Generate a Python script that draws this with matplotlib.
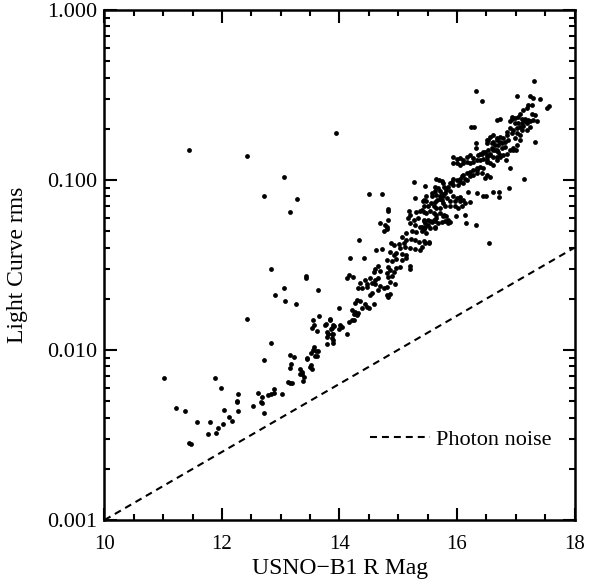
import matplotlib
matplotlib.use("Agg")
import matplotlib.pyplot as plt
from matplotlib.ticker import MultipleLocator, LogLocator, FormatStrFormatter, NullFormatter

plt.rcParams['font.family'] = ['Liberation Serif', 'DejaVu Serif']
plt.rcParams['lines.scale_dashes'] = False

# bright stars (sparse part, R < 14)
mag_bright = [11.44, 12.42, 13.94, 13.06, 12.71, 13.27, 13.15,
              12.83, 13.43, 13.43, 13.06, 13.64, 12.90, 13.08, 13.26, 13.99,
              12.42, 13.65, 13.83, 13.55, 13.56, 13.54, 13.77, 13.91, 13.86, 13.62, 13.78, 13.87, 13.89, 14.00, 13.79, 13.88, 13.78, 13.89, 12.83,
              13.57, 13.55, 13.60, 13.64, 13.51, 13.15, 13.22, 13.58, 13.61, 12.71, 13.44, 13.18, 13.16, 13.52, 13.50, 13.53, 13.33, 13.36, 13.32, 13.40, 13.38, 13.12, 13.16, 13.19,
              11.01, 11.88, 11.99, 12.89, 12.89, 12.83, 12.79, 13.02, 12.61, 12.68, 12.27, 12.26, 12.25, 12.66, 12.68, 12.53, 11.22, 11.37, 12.03, 12.28, 12.71, 12.12, 12.17, 11.58, 11.79, 12.02, 11.93, 11.77, 11.90, 11.44, 11.47,
              13.84, 13.75, 13.89, 13.87, 13.81, 13.89, 13.45, 13.37]
rms_bright = [0.150, 0.138, 0.188, 0.104, 0.0808, 0.0773, 0.0646,
              0.0300, 0.0267, 0.0272, 0.0231, 0.0226, 0.0210, 0.0195, 0.0187, 0.0176,
              0.0152, 0.0159, 0.0152, 0.0150, 0.0141, 0.0135, 0.0143, 0.0138, 0.0133, 0.0129, 0.0128, 0.0125, 0.0124, 0.0133, 0.0119, 0.0118, 0.0109, 0.0110, 0.0110,
              0.0104, 0.0100, 0.0099, 0.00986, 0.00964, 0.00935, 0.0091, 0.00925, 0.00922, 0.00876, 0.0089, 0.00824, 0.00785, 0.00816, 0.0079, 0.00778, 0.00772, 0.00745, 0.00723, 0.0069, 0.00655, 0.00647, 0.00641, 0.00641,
              0.00687, 0.00687, 0.00594, 0.00587, 0.00556, 0.00548, 0.00545, 0.0055, 0.00562, 0.00531, 0.0055, 0.0050, 0.00494, 0.00494, 0.00485, 0.00469, 0.00456, 0.00437, 0.00445, 0.00439, 0.00428, 0.00402, 0.00382, 0.00378, 0.00376, 0.00368, 0.00348, 0.0032, 0.00324, 0.00285, 0.00281,
              0.0150, 0.0140, 0.0140, 0.0135, 0.0124, 0.0114, 0.00892, 0.00718]

# middle of the band (R ~ 14 - 15.5)
mag_mid = [14.51, 14.73, 15.26, 15.46, 15.29, 15.42,
           14.83, 14.83, 15.18, 15.20, 15.31, 15.37, 15.43, 15.48,
           15.17, 15.26, 15.34, 15.43, 15.51, 14.83, 14.69, 14.77, 14.81, 14.81, 14.75,
           15.20, 15.29, 15.37, 15.46, 15.14, 15.23, 15.31, 15.40, 15.48,
           15.06, 15.13, 15.21, 15.29, 15.35, 15.44, 14.33,
           14.87, 14.93, 15.01, 15.09, 15.03, 15.11, 15.20, 15.29, 15.37,
           14.62, 14.72, 14.86, 14.92, 14.97, 15.06, 15.13,
           14.18, 14.41, 14.81, 14.89, 14.97, 15.06, 15.13, 15.20, 15.20,
           14.66, 14.60, 14.59, 14.69, 14.83, 14.86, 14.92, 14.80, 14.83, 14.89, 14.97, 15.03,
           14.17, 14.23, 14.12, 14.52, 14.60, 14.66, 14.43, 14.46, 14.55, 14.60,
           14.86, 14.94, 14.81, 14.35, 14.32, 14.39, 14.46, 14.69, 14.75, 14.66,
           14.55, 14.52, 14.80, 14.86, 14.83,
           14.29, 14.35, 14.26, 14.43, 14.46, 14.39, 14.50, 14.59,
           14.21, 14.26, 14.24, 14.29, 14.32, 14.21, 14.17, 14.24,
           14.01, 14.04, 14.12,
           15.40, 15.43, 15.48, 15.43, 15.48, 15.43, 15.46, 15.40, 15.43, 15.46, 15.40]
rms_mid = [0.0830, 0.0825, 0.0973, 0.0922, 0.0783, 0.0752,
           0.0679, 0.0653, 0.0653, 0.0625, 0.0644, 0.0653, 0.0644, 0.0638,
           0.0598, 0.0582, 0.0598, 0.0574, 0.0582, 0.0582, 0.0555, 0.0543, 0.0532, 0.0512, 0.0503,
           0.0555, 0.0543, 0.0532, 0.0532, 0.0490, 0.0501, 0.0497, 0.0501, 0.0490,
           0.0463, 0.0444, 0.0450, 0.0444, 0.0434, 0.0440, 0.0442,
           0.0427, 0.0414, 0.0420, 0.0424, 0.0400, 0.0404, 0.0400, 0.0394, 0.0388,
           0.0388, 0.0392, 0.0378, 0.0361, 0.0370, 0.0366, 0.0361,
           0.0349, 0.0349, 0.0338, 0.0334, 0.0342, 0.0338, 0.0348, 0.0314, 0.0300,
           0.0311, 0.0298, 0.0288, 0.0290, 0.0307, 0.0296, 0.0288, 0.0282, 0.0270, 0.0272, 0.0304, 0.0307,
           0.0276, 0.0270, 0.0264, 0.0264, 0.0258, 0.0264, 0.0258, 0.0243, 0.0247, 0.0243,
           0.0251, 0.0245, 0.0235, 0.0247, 0.0233, 0.0231, 0.0234, 0.0237, 0.0231, 0.0225,
           0.0215, 0.0210, 0.0210, 0.0213, 0.0205,
           0.0197, 0.0193, 0.0188, 0.0187, 0.0180, 0.0177, 0.0177, 0.0187,
           0.0172, 0.0168, 0.0163, 0.0161, 0.0164, 0.0150, 0.0147, 0.0151,
           0.0140, 0.0137, 0.0124,
           0.0667, 0.0708, 0.0800, 0.0762, 0.0748, 0.0582, 0.0555, 0.0532, 0.0512, 0.0427, 0.0404]

# faint stars (R ~ 15.5 - 16.2)
mag_faint = [15.65, 15.70, 15.74, 15.77, 15.78, 15.82, 15.80, 15.77, 15.83,
             15.55, 15.63, 15.66, 15.71, 15.54, 15.60, 15.65, 15.71, 15.78, 15.82,
             15.57, 15.63, 15.68, 15.74, 15.80, 15.85, 15.54, 15.63, 15.52, 15.52,
             15.94, 15.91, 16.00, 16.05, 16.11, 16.02, 15.94, 15.88, 15.85, 15.63, 15.68, 15.71, 15.63, 15.57, 15.65, 15.74,
             15.94, 16.00, 16.05, 16.11, 16.05, 15.97, 15.88, 15.88, 15.97, 16.02, 16.08, 16.14,
             15.57, 15.74, 15.77, 15.80, 15.71, 15.65, 15.60, 15.51,
             16.14, 15.98, 15.77, 15.65, 15.60, 15.54, 15.51, 15.63, 15.85, 15.88, 16.15, 16.32, 16.55,
             15.88, 15.71]
rms_faint = [0.101, 0.100, 0.0982, 0.0964, 0.0913, 0.0873, 0.0836, 0.0800, 0.0783,
             0.0732, 0.0742, 0.0758, 0.0773, 0.0653, 0.0638, 0.0625, 0.0638, 0.0625, 0.0611,
             0.0564, 0.0574, 0.0555, 0.0564, 0.0574, 0.0582, 0.0525, 0.0519, 0.0434, 0.0427,
             0.102, 0.0977, 0.100, 0.0977, 0.0956, 0.0935, 0.0935, 0.0956, 0.0913, 0.0913, 0.0893, 0.0858, 0.0858, 0.0838, 0.0820, 0.0830,
             0.0800, 0.0783, 0.0791, 0.0762, 0.0748, 0.0748, 0.0748, 0.0708, 0.0708, 0.0686, 0.0708, 0.0730,
             0.0800, 0.0762, 0.0732, 0.0708, 0.0686, 0.0686, 0.0708, 0.0708,
             0.0625, 0.0611, 0.0611, 0.0598, 0.0582, 0.0574, 0.0543, 0.0532, 0.0555, 0.0564, 0.0560, 0.0546, 0.0427,
             0.0858, 0.0800]

# faintest stars (R > 16, densest part)
mag_faintest = [17.31, 16.32, 16.42, 17.02, 17.25, 17.30, 17.41, 17.54, 17.57, 17.21, 17.19, 17.13, 17.07,
                17.27, 17.33, 17.30, 17.36, 17.21, 17.16, 17.10, 17.04, 16.99, 16.93, 16.90, 16.98, 17.04, 17.10, 17.16,
                16.23, 16.29, 16.73, 17.33, 17.24, 17.19, 17.10, 17.02, 16.96, 16.90, 16.85, 16.93, 17.02, 17.07,
                16.73, 16.79, 16.68, 16.62, 16.53, 16.51, 16.59, 16.65, 16.70, 16.76, 16.82, 16.87, 16.99, 17.07,
                16.33, 16.32, 17.00, 16.96, 16.22, 16.17, 16.28, 16.36, 16.42, 16.48, 16.53, 16.59, 16.65, 16.70, 16.76, 16.82,
                15.94, 16.00, 16.05, 16.11, 15.94, 16.00, 16.05, 16.11, 16.17, 16.22, 16.28, 16.34, 16.39, 16.45, 16.51, 16.56, 16.62, 16.68, 16.73,
                16.91, 16.83, 16.39, 16.45, 16.34, 16.28, 16.22, 16.17, 16.11, 16.08, 16.05, 16.14, 16.22, 16.28, 16.34, 16.42, 16.51, 16.56, 16.48, 17.14,
                16.34, 16.45, 16.49, 16.61, 16.71, 16.71, 16.88, 16.19, 16.22,
                16.68, 16.93, 17.27, 16.51, 16.56, 16.62, 16.68, 16.73, 16.85, 17.07, 17.13, 17.19, 17.24,
                16.39, 16.45, 16.51, 16.56, 16.62, 16.51, 16.56, 16.62, 16.68, 16.73, 16.79, 16.85, 16.90, 16.96, 17.02,
                16.17, 16.34, 16.51, 16.68]
rms_faintest = [0.380, 0.333, 0.293, 0.314, 0.314, 0.302, 0.301, 0.266, 0.271, 0.278, 0.266, 0.258, 0.246,
                0.246, 0.240, 0.225, 0.223, 0.225, 0.230, 0.230, 0.235, 0.233, 0.228, 0.221, 0.216, 0.216, 0.216, 0.221,
                0.205, 0.205, 0.228, 0.168, 0.205, 0.197, 0.197, 0.201, 0.197, 0.201, 0.192, 0.188, 0.188, 0.183,
                0.180, 0.176, 0.172, 0.168, 0.172, 0.165, 0.165, 0.161, 0.161, 0.165, 0.168, 0.172, 0.176, 0.172,
                0.165, 0.154, 0.150, 0.151, 0.140, 0.137, 0.135, 0.140, 0.143, 0.147, 0.150, 0.154, 0.150, 0.147, 0.154, 0.157,
                0.136, 0.133, 0.135, 0.131, 0.126, 0.126, 0.122, 0.126, 0.128, 0.126, 0.128, 0.131, 0.131, 0.133, 0.137, 0.140, 0.137, 0.137, 0.140,
                0.117, 0.131, 0.120, 0.117, 0.117, 0.115, 0.112, 0.110, 0.107, 0.105, 0.102, 0.102, 0.105, 0.107, 0.110, 0.110, 0.107, 0.104, 0.103, 0.101,
                0.0838, 0.0800, 0.0800, 0.0850, 0.0850, 0.0791, 0.0893, 0.0846, 0.0742,
                0.225, 0.235, 0.278, 0.172, 0.180, 0.183, 0.176, 0.168, 0.183, 0.205, 0.209, 0.216, 0.221,
                0.143, 0.147, 0.140, 0.143, 0.150, 0.128, 0.126, 0.122, 0.131, 0.137, 0.140, 0.143, 0.150, 0.154, 0.161,
                0.100, 0.115, 0.131, 0.150]

# photon noise limit
noise_mag = [10, 18]
noise_rms = [0.001, 0.040]

mags = mag_bright + mag_mid + mag_faint + mag_faintest
rms = rms_bright + rms_mid + rms_faint + rms_faintest

fig = plt.figure(figsize=(5.89, 5.79), dpi=100)
ax = fig.add_axes([0.1774, 0.1019, 0.798, 0.8808])

ax.scatter(mags, rms, s=12, c="black", linewidths=0)
ax.plot(noise_mag, noise_rms, color="black", lw=1.5, dashes=(5, 3.6), label="Photon noise")

ax.set_yscale("log")
ax.set_xlim(10, 18)
ax.set_ylim(0.001, 1)

ax.xaxis.set_major_locator(MultipleLocator(2))
ax.xaxis.set_minor_locator(MultipleLocator(0.5))
ax.yaxis.set_major_locator(LogLocator(base=10))
ax.yaxis.set_minor_locator(LogLocator(base=10, subs=range(2, 10)))
ax.yaxis.set_major_formatter(FormatStrFormatter("%.3f"))
ax.yaxis.set_minor_formatter(NullFormatter())

ax.tick_params(which="both", direction="in", top=True, right=True, width=1.5)
ax.tick_params(which="major", length=9)
ax.tick_params(which="minor", length=4.5)
ax.tick_params(axis="x", pad=11, labelsize=15)
ax.tick_params(axis="y", pad=5, labelsize=16)
for sp in ax.spines.values():
    sp.set_linewidth(1.8)

ax.set_xlabel("USNO\u2212B1 R Mag", fontsize=17)
ax.set_ylabel("Light Curve rms", fontsize=17)
ax.xaxis.set_label_coords(0.501, -0.074)
ax.yaxis.set_label_coords(-0.163, 0.5)

ax.legend(loc="center right", bbox_to_anchor=(0.950, 0.157), frameon=False,
          fontsize=16, handlelength=2.7, handletextpad=0.25, borderpad=0, borderaxespad=0)

plt.savefig("out.png", dpi=100)
